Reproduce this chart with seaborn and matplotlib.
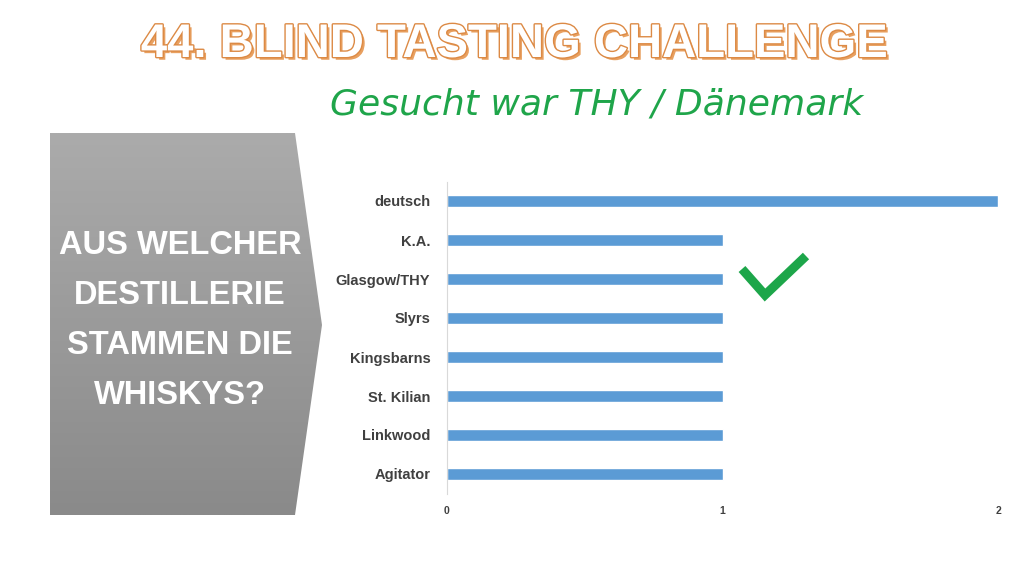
import numpy as np
import pandas as pd
import seaborn as sns
import matplotlib.pyplot as plt
import matplotlib.patheffects as pe
from matplotlib.patches import Polygon
from matplotlib.colors import LinearSegmentedColormap

# data
distilleries = ['deutsch', 'K.A.', 'Glasgow/THY', 'Slyrs', 'Kingsbarns',
                'St. Kilian', 'Linkwood', 'Agitator']
votes = [2, 1, 1, 1, 1, 1, 1, 1]
x_ticks = [0, 1, 2]

df = pd.DataFrame({'destillerie': distilleries, 'stimmen': votes})

sns.set_style('white')
plt.rcParams['font.family'] = ['Liberation Sans', 'DejaVu Sans']

fig = plt.figure(figsize=(10.24, 5.76), dpi=100)
fig.patch.set_facecolor('white')

# bar chart
ax = fig.add_axes([447 / 1024, 1 - 493.5 / 576, 551 / 1024, 312 / 576])
sns.barplot(data=df, x='stimmen', y='destillerie', order=distilleries,
            orient='h', color='#5B9BD5', saturation=1, width=0.29, ax=ax)
ax.set_xlim(0, 2)
ax.set_ylim(len(distilleries) - 0.5, -0.5)
ax.set_xticks(x_ticks)
ax.set_xlabel('')
ax.set_ylabel('')
for s in ['top', 'right', 'bottom']:
    ax.spines[s].set_visible(False)
ax.spines['left'].set_color('#D9D9D9')
ax.spines['left'].set_linewidth(0.8)
ax.tick_params(axis='y', length=0, pad=12)
ax.tick_params(axis='x', length=3, width=0.6, color='#E3E3E3', pad=6)
for lbl in ax.get_yticklabels():
    lbl.set_fontweight('bold')
    lbl.set_fontsize(10.5)
    lbl.set_color('#404040')
for lbl in ax.get_xticklabels():
    lbl.set_fontweight('bold')
    lbl.set_fontsize(7.5)
    lbl.set_color('#404040')

# overlay for decorations, pixel coordinates
ov = fig.add_axes([0, 0, 1, 1], zorder=5)
ov.axis('off')
ov.patch.set_alpha(0)

# grey arrow panel with gradient
pts = [(50, 133), (295, 133), (322, 325), (295, 515), (50, 515)]
poly = Polygon(pts, closed=True, facecolor='none', edgecolor='none')
ov.add_patch(poly)
grad = np.linspace(0, 1, 256).reshape(-1, 1)
cmap = LinearSegmentedColormap.from_list('g', ['#ABABAB', '#8A8A8A'])
img = ov.imshow(grad, cmap=cmap, extent=(50, 322, 515, 133), aspect='auto')
img.set_clip_path(poly)
ov.set_xlim(0, 1024)
ov.set_ylim(576, 0)

panel_lines = ['AUS WELCHER', 'DESTILLERIE', 'STAMMEN DIE', 'WHISKYS?']
for i, t in enumerate(panel_lines):
    ov.text(180, 245 + i * 50, t, ha='center', va='center', color='white',
            fontsize=23.5, fontweight='bold', fontstretch='condensed')

# check mark
ov.plot([742, 765, 806], [269, 295, 256], color='#1DA64A', lw=6.5,
        solid_capstyle='butt', solid_joinstyle='miter')

# titles
ov.text(514, 45, '44. BLIND TASTING CHALLENGE', ha='center', va='center',
        fontsize=34, color='white', fontweight='bold', fontstretch='condensed',
        path_effects=[pe.withSimplePatchShadow(offset=(2, -2), shadow_rgbFace='#E8A060', alpha=1),
                      pe.withStroke(linewidth=2, foreground='#DC8A45')])
ov.text(597, 105, 'Gesucht war THY / Dänemark', ha='center', va='center',
        fontsize=26, color='#1FA54A', fontstyle='italic', fontweight='medium',
        fontfamily=['DejaVu Sans'])

fig.savefig('out.png', dpi=100, facecolor='white')
